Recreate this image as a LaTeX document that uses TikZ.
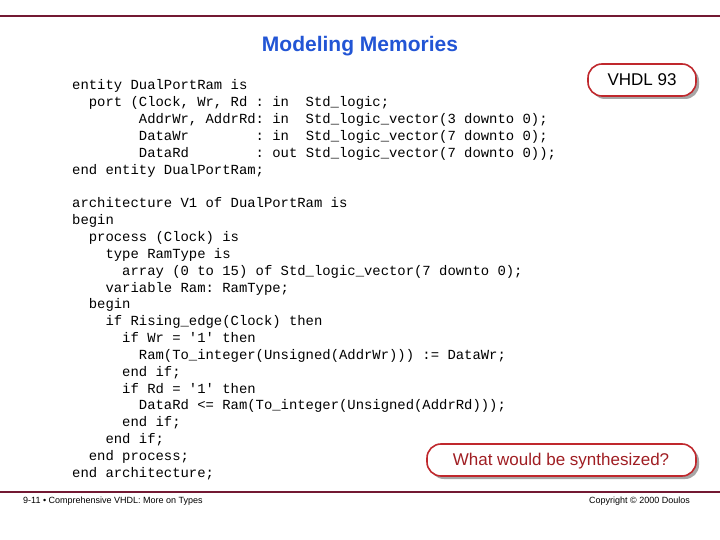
\documentclass[tikz,border=0pt]{standalone}
\usepackage{fontspec}
\setmainfont{Liberation Sans}
\newfontfamily\codefont{Liberation Mono}[Ligatures={}]
\definecolor{maroon}{HTML}{731933}
\definecolor{boxred}{HTML}{C0282D}
\definecolor{txtred}{HTML}{A01E23}
\definecolor{ttlblue}{HTML}{2255D5}
\begin{document}
\begin{tikzpicture}[x=1pt,y=-1pt,
  code/.style={anchor=base west,inner sep=0pt,font=\codefont\fontsize{13.9}{16}\selectfont},
  rule/.style={maroon,line width=2.2pt}]
\useasboundingbox (0,0) rectangle (720,540);
\fill[white] (0,0) rectangle (720,540);
\draw[rule] (0,16) -- (720,16);
\draw[rule] (0,492) -- (720,492);
\node[font=\bfseries\fontsize{21}{24}\selectfont,text=ttlblue] (title) at (360,46) {Modeling Memories};
% boxes
\fill[black!35,rounded corners=14pt] (591,67) rectangle (699,99);
\draw[boxred,line width=1.6pt,rounded corners=14pt,fill=white] (588,64) rectangle (696,96);
\node[font=\fontsize{17}{20}\selectfont] (v93) at (642,80) {VHDL 93};
\fill[black!35,rounded corners=14pt] (430,447) rectangle (699,479);
\draw[boxred,line width=1.6pt,rounded corners=14pt,fill=white] (427,444) rectangle (696,476);
\node[font=\fontsize{17}{20}\selectfont,text=txtred] (q) at (561,461) {What would be synthesized?};
% footer
\node[anchor=west,inner sep=0pt,font=\fontsize{9}{11}\selectfont] (fl) at (23,501) {9-11 \textbullet{} Comprehensive VHDL: More on Types};
\node[anchor=east,inner sep=0pt,font=\fontsize{9}{11}\selectfont] (fr) at (690,501) {Copyright \textcopyright{} 2000 Doulos};
% code
\def\q{\char"27\relax}
\node[code] (c1) at (72,90.0) {entity~DualPortRam~is};
\node[code] (c2) at (72,106.8) {~~port~(Clock,~Wr,~Rd~:~in~~Std\_logic;};
\node[code] (c3) at (72,123.7) {~~~~~~~~AddrWr,~AddrRd:~in~~Std\_logic\_vector(3~downto~0);};
\node[code] (c4) at (72,140.5) {~~~~~~~~DataWr~~~~~~~~:~in~~Std\_logic\_vector(7~downto~0);};
\node[code] (c5) at (72,157.3) {~~~~~~~~DataRd~~~~~~~~:~out~Std\_logic\_vector(7~downto~0));};
\node[code] (c6) at (72,174.2) {end~entity~DualPortRam;};
\node[code] (c8) at (72,207.8) {architecture~V1~of~DualPortRam~is};
\node[code] (c9) at (72,224.7) {begin};
\node[code] (c10) at (72,241.5) {~~process~(Clock)~is};
\node[code] (c11) at (72,258.3) {~~~~type~RamType~is};
\node[code] (c12) at (72,275.2) {~~~~~~array~(0~to~15)~of~Std\_logic\_vector(7~downto~0);};
\node[code] (c13) at (72,292.0) {~~~~variable~Ram:~RamType;};
\node[code] (c14) at (72,308.8) {~~begin};
\node[code] (c15) at (72,325.7) {~~~~if~Rising\_edge(Clock)~then};
\node[code] (c16) at (72,342.5) {~~~~~~if~Wr~=~\q1\q~then};
\node[code] (c17) at (72,359.3) {~~~~~~~~Ram(To\_integer(Unsigned(AddrWr)))~:=~DataWr;};
\node[code] (c18) at (72,376.2) {~~~~~~end~if;};
\node[code] (c19) at (72,393.0) {~~~~~~if~Rd~=~\q1\q~then};
\node[code] (c20) at (72,409.8) {~~~~~~~~DataRd~<=~Ram(To\_integer(Unsigned(AddrRd)));};
\node[code] (c21) at (72,426.7) {~~~~~~end~if;};
\node[code] (c22) at (72,443.5) {~~~~end~if;};
\node[code] (c23) at (72,460.3) {~~end~process;};
\node[code] (c24) at (72,477.2) {end~architecture;};
\end{tikzpicture}
\end{document}
